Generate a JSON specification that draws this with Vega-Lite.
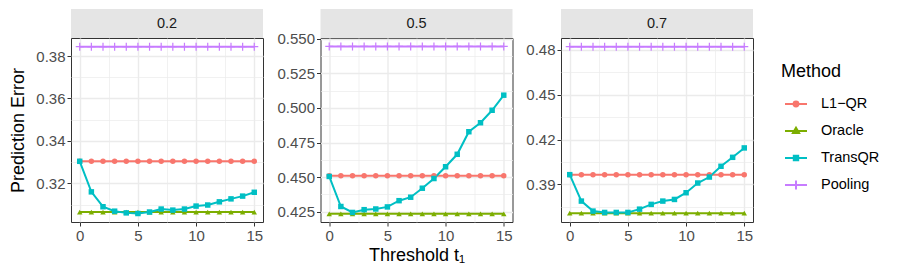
{
"$schema": "https://vega.github.io/schema/vega-lite/v6.json",
"padding": {"left": 9, "top": 9, "right": 0, "bottom": 0},
"background": "white",
"config": {
  "font": "Liberation Sans",
  "view": {"stroke": "#333333", "strokeWidth": 1},
  "axis": {"labelFontSize": 15, "labelColor": "#4D4D4D", "labelFont": "Liberation Sans", "tickColor": "#333333", "tickSize": 4, "tickWidth": 1, "domain": false, "gridColor": "#EBEBEB", "titleFontSize": 18, "titleFontWeight": "normal", "titleColor": "#000000", "titleFont": "Liberation Sans", "labelPadding": 2, "labelOverlap": false, "labelFlush": false},
  "axisX": {"titlePadding": 3},
  "axisY": {"titlePadding": 8}
},
"datasets": {"d": [
{"panel":"0.2","method":"L1-QR","t":0,"error":0.3304},{"panel":"0.2","method":"L1-QR","t":1,"error":0.3304},{"panel":"0.2","method":"L1-QR","t":2,"error":0.3304},{"panel":"0.2","method":"L1-QR","t":3,"error":0.3304},{"panel":"0.2","method":"L1-QR","t":4,"error":0.3304},{"panel":"0.2","method":"L1-QR","t":5,"error":0.3304},{"panel":"0.2","method":"L1-QR","t":6,"error":0.3304},{"panel":"0.2","method":"L1-QR","t":7,"error":0.3304},{"panel":"0.2","method":"L1-QR","t":8,"error":0.3304},{"panel":"0.2","method":"L1-QR","t":9,"error":0.3304},{"panel":"0.2","method":"L1-QR","t":10,"error":0.3304},{"panel":"0.2","method":"L1-QR","t":11,"error":0.3304},{"panel":"0.2","method":"L1-QR","t":12,"error":0.3304},{"panel":"0.2","method":"L1-QR","t":13,"error":0.3304},{"panel":"0.2","method":"L1-QR","t":14,"error":0.3304},{"panel":"0.2","method":"L1-QR","t":15,"error":0.3304},
{"panel":"0.2","method":"Oracle","t":0,"error":0.3065},{"panel":"0.2","method":"Oracle","t":1,"error":0.3065},{"panel":"0.2","method":"Oracle","t":2,"error":0.3065},{"panel":"0.2","method":"Oracle","t":3,"error":0.3065},{"panel":"0.2","method":"Oracle","t":4,"error":0.3065},{"panel":"0.2","method":"Oracle","t":5,"error":0.3065},{"panel":"0.2","method":"Oracle","t":6,"error":0.3065},{"panel":"0.2","method":"Oracle","t":7,"error":0.3065},{"panel":"0.2","method":"Oracle","t":8,"error":0.3065},{"panel":"0.2","method":"Oracle","t":9,"error":0.3065},{"panel":"0.2","method":"Oracle","t":10,"error":0.3065},{"panel":"0.2","method":"Oracle","t":11,"error":0.3065},{"panel":"0.2","method":"Oracle","t":12,"error":0.3065},{"panel":"0.2","method":"Oracle","t":13,"error":0.3065},{"panel":"0.2","method":"Oracle","t":14,"error":0.3065},{"panel":"0.2","method":"Oracle","t":15,"error":0.3065},
{"panel":"0.2","method":"TransQR","t":0,"error":0.3304},{"panel":"0.2","method":"TransQR","t":1,"error":0.3160},{"panel":"0.2","method":"TransQR","t":2,"error":0.3090},{"panel":"0.2","method":"TransQR","t":3,"error":0.3069},{"panel":"0.2","method":"TransQR","t":4,"error":0.3061},{"panel":"0.2","method":"TransQR","t":5,"error":0.3058},{"panel":"0.2","method":"TransQR","t":6,"error":0.3065},{"panel":"0.2","method":"TransQR","t":7,"error":0.3079},{"panel":"0.2","method":"TransQR","t":8,"error":0.3074},{"panel":"0.2","method":"TransQR","t":9,"error":0.3079},{"panel":"0.2","method":"TransQR","t":10,"error":0.3093},{"panel":"0.2","method":"TransQR","t":11,"error":0.3098},{"panel":"0.2","method":"TransQR","t":12,"error":0.3113},{"panel":"0.2","method":"TransQR","t":13,"error":0.3127},{"panel":"0.2","method":"TransQR","t":14,"error":0.3140},{"panel":"0.2","method":"TransQR","t":15,"error":0.3158},
{"panel":"0.2","method":"Pooling","t":0,"error":0.3844},{"panel":"0.2","method":"Pooling","t":1,"error":0.3844},{"panel":"0.2","method":"Pooling","t":2,"error":0.3844},{"panel":"0.2","method":"Pooling","t":3,"error":0.3844},{"panel":"0.2","method":"Pooling","t":4,"error":0.3844},{"panel":"0.2","method":"Pooling","t":5,"error":0.3844},{"panel":"0.2","method":"Pooling","t":6,"error":0.3844},{"panel":"0.2","method":"Pooling","t":7,"error":0.3844},{"panel":"0.2","method":"Pooling","t":8,"error":0.3844},{"panel":"0.2","method":"Pooling","t":9,"error":0.3844},{"panel":"0.2","method":"Pooling","t":10,"error":0.3844},{"panel":"0.2","method":"Pooling","t":11,"error":0.3844},{"panel":"0.2","method":"Pooling","t":12,"error":0.3844},{"panel":"0.2","method":"Pooling","t":13,"error":0.3844},{"panel":"0.2","method":"Pooling","t":14,"error":0.3844},{"panel":"0.2","method":"Pooling","t":15,"error":0.3844},
{"panel":"0.5","method":"L1-QR","t":0,"error":0.4510},{"panel":"0.5","method":"L1-QR","t":1,"error":0.4510},{"panel":"0.5","method":"L1-QR","t":2,"error":0.4510},{"panel":"0.5","method":"L1-QR","t":3,"error":0.4510},{"panel":"0.5","method":"L1-QR","t":4,"error":0.4510},{"panel":"0.5","method":"L1-QR","t":5,"error":0.4510},{"panel":"0.5","method":"L1-QR","t":6,"error":0.4510},{"panel":"0.5","method":"L1-QR","t":7,"error":0.4510},{"panel":"0.5","method":"L1-QR","t":8,"error":0.4510},{"panel":"0.5","method":"L1-QR","t":9,"error":0.4510},{"panel":"0.5","method":"L1-QR","t":10,"error":0.4510},{"panel":"0.5","method":"L1-QR","t":11,"error":0.4510},{"panel":"0.5","method":"L1-QR","t":12,"error":0.4510},{"panel":"0.5","method":"L1-QR","t":13,"error":0.4510},{"panel":"0.5","method":"L1-QR","t":14,"error":0.4510},{"panel":"0.5","method":"L1-QR","t":15,"error":0.4510},
{"panel":"0.5","method":"Oracle","t":0,"error":0.4235},{"panel":"0.5","method":"Oracle","t":1,"error":0.4235},{"panel":"0.5","method":"Oracle","t":2,"error":0.4235},{"panel":"0.5","method":"Oracle","t":3,"error":0.4235},{"panel":"0.5","method":"Oracle","t":4,"error":0.4235},{"panel":"0.5","method":"Oracle","t":5,"error":0.4235},{"panel":"0.5","method":"Oracle","t":6,"error":0.4235},{"panel":"0.5","method":"Oracle","t":7,"error":0.4235},{"panel":"0.5","method":"Oracle","t":8,"error":0.4235},{"panel":"0.5","method":"Oracle","t":9,"error":0.4235},{"panel":"0.5","method":"Oracle","t":10,"error":0.4235},{"panel":"0.5","method":"Oracle","t":11,"error":0.4235},{"panel":"0.5","method":"Oracle","t":12,"error":0.4235},{"panel":"0.5","method":"Oracle","t":13,"error":0.4235},{"panel":"0.5","method":"Oracle","t":14,"error":0.4235},{"panel":"0.5","method":"Oracle","t":15,"error":0.4235},
{"panel":"0.5","method":"TransQR","t":0,"error":0.4505},{"panel":"0.5","method":"TransQR","t":1,"error":0.4288},{"panel":"0.5","method":"TransQR","t":2,"error":0.4245},{"panel":"0.5","method":"TransQR","t":3,"error":0.4265},{"panel":"0.5","method":"TransQR","t":4,"error":0.4270},{"panel":"0.5","method":"TransQR","t":5,"error":0.4285},{"panel":"0.5","method":"TransQR","t":6,"error":0.4330},{"panel":"0.5","method":"TransQR","t":7,"error":0.4355},{"panel":"0.5","method":"TransQR","t":8,"error":0.4420},{"panel":"0.5","method":"TransQR","t":9,"error":0.4490},{"panel":"0.5","method":"TransQR","t":10,"error":0.4575},{"panel":"0.5","method":"TransQR","t":11,"error":0.4665},{"panel":"0.5","method":"TransQR","t":12,"error":0.4828},{"panel":"0.5","method":"TransQR","t":13,"error":0.4893},{"panel":"0.5","method":"TransQR","t":14,"error":0.4983},{"panel":"0.5","method":"TransQR","t":15,"error":0.5092},
{"panel":"0.5","method":"Pooling","t":0,"error":0.5444},{"panel":"0.5","method":"Pooling","t":1,"error":0.5444},{"panel":"0.5","method":"Pooling","t":2,"error":0.5444},{"panel":"0.5","method":"Pooling","t":3,"error":0.5444},{"panel":"0.5","method":"Pooling","t":4,"error":0.5444},{"panel":"0.5","method":"Pooling","t":5,"error":0.5444},{"panel":"0.5","method":"Pooling","t":6,"error":0.5444},{"panel":"0.5","method":"Pooling","t":7,"error":0.5444},{"panel":"0.5","method":"Pooling","t":8,"error":0.5444},{"panel":"0.5","method":"Pooling","t":9,"error":0.5444},{"panel":"0.5","method":"Pooling","t":10,"error":0.5444},{"panel":"0.5","method":"Pooling","t":11,"error":0.5444},{"panel":"0.5","method":"Pooling","t":12,"error":0.5444},{"panel":"0.5","method":"Pooling","t":13,"error":0.5444},{"panel":"0.5","method":"Pooling","t":14,"error":0.5444},{"panel":"0.5","method":"Pooling","t":15,"error":0.5444},
{"panel":"0.7","method":"L1-QR","t":0,"error":0.3965},{"panel":"0.7","method":"L1-QR","t":1,"error":0.3965},{"panel":"0.7","method":"L1-QR","t":2,"error":0.3965},{"panel":"0.7","method":"L1-QR","t":3,"error":0.3965},{"panel":"0.7","method":"L1-QR","t":4,"error":0.3965},{"panel":"0.7","method":"L1-QR","t":5,"error":0.3965},{"panel":"0.7","method":"L1-QR","t":6,"error":0.3965},{"panel":"0.7","method":"L1-QR","t":7,"error":0.3965},{"panel":"0.7","method":"L1-QR","t":8,"error":0.3965},{"panel":"0.7","method":"L1-QR","t":9,"error":0.3965},{"panel":"0.7","method":"L1-QR","t":10,"error":0.3965},{"panel":"0.7","method":"L1-QR","t":11,"error":0.3965},{"panel":"0.7","method":"L1-QR","t":12,"error":0.3965},{"panel":"0.7","method":"L1-QR","t":13,"error":0.3965},{"panel":"0.7","method":"L1-QR","t":14,"error":0.3965},{"panel":"0.7","method":"L1-QR","t":15,"error":0.3965},
{"panel":"0.7","method":"Oracle","t":0,"error":0.3707},{"panel":"0.7","method":"Oracle","t":1,"error":0.3707},{"panel":"0.7","method":"Oracle","t":2,"error":0.3707},{"panel":"0.7","method":"Oracle","t":3,"error":0.3707},{"panel":"0.7","method":"Oracle","t":4,"error":0.3707},{"panel":"0.7","method":"Oracle","t":5,"error":0.3707},{"panel":"0.7","method":"Oracle","t":6,"error":0.3707},{"panel":"0.7","method":"Oracle","t":7,"error":0.3707},{"panel":"0.7","method":"Oracle","t":8,"error":0.3707},{"panel":"0.7","method":"Oracle","t":9,"error":0.3707},{"panel":"0.7","method":"Oracle","t":10,"error":0.3707},{"panel":"0.7","method":"Oracle","t":11,"error":0.3707},{"panel":"0.7","method":"Oracle","t":12,"error":0.3707},{"panel":"0.7","method":"Oracle","t":13,"error":0.3707},{"panel":"0.7","method":"Oracle","t":14,"error":0.3707},{"panel":"0.7","method":"Oracle","t":15,"error":0.3707},
{"panel":"0.7","method":"TransQR","t":0,"error":0.3965},{"panel":"0.7","method":"TransQR","t":1,"error":0.3788},{"panel":"0.7","method":"TransQR","t":2,"error":0.3721},{"panel":"0.7","method":"TransQR","t":3,"error":0.3712},{"panel":"0.7","method":"TransQR","t":4,"error":0.3712},{"panel":"0.7","method":"TransQR","t":5,"error":0.3712},{"panel":"0.7","method":"TransQR","t":6,"error":0.3734},{"panel":"0.7","method":"TransQR","t":7,"error":0.3766},{"panel":"0.7","method":"TransQR","t":8,"error":0.3788},{"panel":"0.7","method":"TransQR","t":9,"error":0.3799},{"panel":"0.7","method":"TransQR","t":10,"error":0.3844},{"panel":"0.7","method":"TransQR","t":11,"error":0.3909},{"panel":"0.7","method":"TransQR","t":12,"error":0.3949},{"panel":"0.7","method":"TransQR","t":13,"error":0.4021},{"panel":"0.7","method":"TransQR","t":14,"error":0.4081},{"panel":"0.7","method":"TransQR","t":15,"error":0.4144},
{"panel":"0.7","method":"Pooling","t":0,"error":0.4822},{"panel":"0.7","method":"Pooling","t":1,"error":0.4822},{"panel":"0.7","method":"Pooling","t":2,"error":0.4822},{"panel":"0.7","method":"Pooling","t":3,"error":0.4822},{"panel":"0.7","method":"Pooling","t":4,"error":0.4822},{"panel":"0.7","method":"Pooling","t":5,"error":0.4822},{"panel":"0.7","method":"Pooling","t":6,"error":0.4822},{"panel":"0.7","method":"Pooling","t":7,"error":0.4822},{"panel":"0.7","method":"Pooling","t":8,"error":0.4822},{"panel":"0.7","method":"Pooling","t":9,"error":0.4822},{"panel":"0.7","method":"Pooling","t":10,"error":0.4822},{"panel":"0.7","method":"Pooling","t":11,"error":0.4822},{"panel":"0.7","method":"Pooling","t":12,"error":0.4822},{"panel":"0.7","method":"Pooling","t":13,"error":0.4822},{"panel":"0.7","method":"Pooling","t":14,"error":0.4822},{"panel":"0.7","method":"Pooling","t":15,"error":0.4822}
]},
"spacing": 11.5,
"hconcat": [
 {"vconcat": [
   {"data": {"values": [{"label": "0.2"}]}, "width": 192, "height": 29, "view": {"fill": "#E5E5E5", "stroke": null}, "mark": {"type": "text", "fontSize": 14.5, "color": "#1A1A1A"}, "encoding": {"text": {"field": "label"}}},
   {"data": {"name": "d"}, "transform": [{"filter": "datum.panel == '0.2'"}], "width": 192, "height": 184,
    "encoding": {
      "x": {"field": "t", "type": "quantitative", "scale": {"domain": [-0.75, 15.75], "nice": false, "zero": false},
            "axis": {"title": null, "values": [0, 2.5, 5, 7.5, 10, 12.5, 15], "labelExpr": "datum.value % 5 != 0 ? '' : datum.label", "tickOpacity": {"condition": {"test": "datum.value % 5 != 0", "value": 0}, "value": 1}, "gridWidth": {"condition": {"test": "datum.value % 5 != 0", "value": 0.7}, "value": 1.4}}},
      "y": {"field": "error", "type": "quantitative", "scale": {"domain": [0.3018, 0.3885], "nice": false, "zero": false},
            "axis": {"title": "Prediction Error", "format": ".2f", "values": [0.31, 0.32, 0.33, 0.34, 0.35, 0.36, 0.37, 0.38], "labelExpr": "indexof([0.31, 0.33, 0.35, 0.37], datum.value) >= 0 ? '' : datum.label", "tickOpacity": {"condition": {"test": "indexof([0.31, 0.33, 0.35, 0.37], datum.value) >= 0", "value": 0}, "value": 1}, "gridWidth": {"condition": {"test": "indexof([0.31, 0.33, 0.35, 0.37], datum.value) >= 0", "value": 0.7}, "value": 1.4}}},
      "color": {"field": "method", "type": "nominal", "scale": {"domain": ["L1-QR", "Oracle", "TransQR", "Pooling"], "range": ["#F8766D", "#7CAE00", "#00BFC4", "#C77CFF"]},
        "legend": {"title": "Method", "orient": "none", "legendX": 710, "legendY": 54, "titleFontSize": 18, "titleFontWeight": "normal", "titleColor": "#000000", "titlePadding": 11, "labelFontSize": 14.5, "labelColor": "#000000", "labelOffset": 13, "symbolSize": 484, "rowPadding": 8, "symbolOffset": 3, "labelExpr": "replace(datum.label, '-', '−')",
          "encode": {"symbols": {"update": {"shape": {"signal": "datum.value == 'L1-QR' ? 'M-1,0H1M0.22,0A0.22,0.22 0 1,1 -0.22,0A0.22,0.22 0 1,1 0.22,0Z' : datum.value == 'Oracle' ? 'M-1,0H1M0,-0.3L0.28,0.18L-0.28,0.18Z' : datum.value == 'TransQR' ? 'M-1,0H1M-0.2,-0.2H0.2V0.2H-0.2Z' : 'M-1,0H1M0,-0.4V0.4'"}, "fill": {"scale": "color", "field": "value"}, "stroke": {"scale": "color", "field": "value"}, "strokeWidth": {"value": 2}, "size": {"value": 484}, "opacity": {"value": 1}}}}}}
    },
    "layer": [
      {"mark": {"type": "line", "strokeWidth": 2}},
      {"transform": [{"filter": "datum.method != 'Pooling'"}], "mark": {"type": "point", "filled": true, "opacity": 1, "size": 30}, "encoding": {"shape": {"field": "method", "type": "nominal", "scale": {"domain": ["L1-QR", "Oracle", "TransQR"], "range": ["circle", "triangle-up", "square"]}, "legend": null}}},
      {"transform": [{"filter": "datum.method == 'Pooling'"}], "mark": {"type": "point", "shape": "M-1,0H1M0,-1V1", "filled": false, "size": 64, "strokeWidth": 1.2, "opacity": 1}}
    ]}
 ], "spacing": 0, "bounds": "flush"},
 {"vconcat": [
   {"data": {"values": [{"label": "0.5"}]}, "width": 192, "height": 29, "view": {"fill": "#E5E5E5", "stroke": null}, "mark": {"type": "text", "fontSize": 14.5, "color": "#1A1A1A"}, "encoding": {"text": {"field": "label"}}},
   {"data": {"name": "d"}, "transform": [{"filter": "datum.panel == '0.5'"}], "width": 192, "height": 184,
    "encoding": {
      "x": {"field": "t", "type": "quantitative", "scale": {"domain": [-0.75, 15.75], "nice": false, "zero": false},
            "axis": {"title": "Threshold t₁", "values": [0, 2.5, 5, 7.5, 10, 12.5, 15], "labelExpr": "datum.value % 5 != 0 ? '' : datum.label", "tickOpacity": {"condition": {"test": "datum.value % 5 != 0", "value": 0}, "value": 1}, "gridWidth": {"condition": {"test": "datum.value % 5 != 0", "value": 0.7}, "value": 1.4}}},
      "y": {"field": "error", "type": "quantitative", "scale": {"domain": [0.4176, 0.5505], "nice": false, "zero": false},
            "axis": {"title": null, "format": ".3f", "values": [0.425, 0.4375, 0.45, 0.4625, 0.475, 0.4875, 0.5, 0.5125, 0.525, 0.5375, 0.55], "labelExpr": "indexof([0.4375, 0.4625, 0.4875, 0.5125, 0.5375], datum.value) >= 0 ? '' : datum.label", "tickOpacity": {"condition": {"test": "indexof([0.4375, 0.4625, 0.4875, 0.5125, 0.5375], datum.value) >= 0", "value": 0}, "value": 1}, "gridWidth": {"condition": {"test": "indexof([0.4375, 0.4625, 0.4875, 0.5125, 0.5375], datum.value) >= 0", "value": 0.7}, "value": 1.4}}},
      "color": {"field": "method", "type": "nominal", "scale": {"domain": ["L1-QR", "Oracle", "TransQR", "Pooling"], "range": ["#F8766D", "#7CAE00", "#00BFC4", "#C77CFF"]},
        "legend": {"title": "Method", "orient": "none", "legendX": 710, "legendY": 54, "titleFontSize": 18, "titleFontWeight": "normal", "titleColor": "#000000", "titlePadding": 11, "labelFontSize": 14.5, "labelColor": "#000000", "labelOffset": 13, "symbolSize": 484, "rowPadding": 8, "symbolOffset": 3, "labelExpr": "replace(datum.label, '-', '−')",
          "encode": {"symbols": {"update": {"shape": {"signal": "datum.value == 'L1-QR' ? 'M-1,0H1M0.22,0A0.22,0.22 0 1,1 -0.22,0A0.22,0.22 0 1,1 0.22,0Z' : datum.value == 'Oracle' ? 'M-1,0H1M0,-0.3L0.28,0.18L-0.28,0.18Z' : datum.value == 'TransQR' ? 'M-1,0H1M-0.2,-0.2H0.2V0.2H-0.2Z' : 'M-1,0H1M0,-0.4V0.4'"}, "fill": {"scale": "color", "field": "value"}, "stroke": {"scale": "color", "field": "value"}, "strokeWidth": {"value": 2}, "size": {"value": 484}, "opacity": {"value": 1}}}}}}
    },
    "layer": [
      {"mark": {"type": "line", "strokeWidth": 2}},
      {"transform": [{"filter": "datum.method != 'Pooling'"}], "mark": {"type": "point", "filled": true, "opacity": 1, "size": 30}, "encoding": {"shape": {"field": "method", "type": "nominal", "scale": {"domain": ["L1-QR", "Oracle", "TransQR"], "range": ["circle", "triangle-up", "square"]}, "legend": null}}},
      {"transform": [{"filter": "datum.method == 'Pooling'"}], "mark": {"type": "point", "shape": "M-1,0H1M0,-1V1", "filled": false, "size": 64, "strokeWidth": 1.2, "opacity": 1}}
    ]}
 ], "spacing": 0, "bounds": "flush"},
 {"vconcat": [
   {"data": {"values": [{"label": "0.7"}]}, "width": 192, "height": 29, "view": {"fill": "#E5E5E5", "stroke": null}, "mark": {"type": "text", "fontSize": 14.5, "color": "#1A1A1A"}, "encoding": {"text": {"field": "label"}}},
   {"data": {"name": "d"}, "transform": [{"filter": "datum.panel == '0.7'"}], "width": 192, "height": 184,
    "encoding": {
      "x": {"field": "t", "type": "quantitative", "scale": {"domain": [-0.75, 15.75], "nice": false, "zero": false},
            "axis": {"title": null, "values": [0, 2.5, 5, 7.5, 10, 12.5, 15], "labelExpr": "datum.value % 5 != 0 ? '' : datum.label", "tickOpacity": {"condition": {"test": "datum.value % 5 != 0", "value": 0}, "value": 1}, "gridWidth": {"condition": {"test": "datum.value % 5 != 0", "value": 0.7}, "value": 1.4}}},
      "y": {"field": "error", "type": "quantitative", "scale": {"domain": [0.3648, 0.488], "nice": false, "zero": false},
            "axis": {"title": null, "format": ".2f", "values": [0.375, 0.39, 0.405, 0.42, 0.435, 0.45, 0.465, 0.48], "labelExpr": "indexof([0.375, 0.405, 0.435, 0.465], datum.value) >= 0 ? '' : datum.label", "tickOpacity": {"condition": {"test": "indexof([0.375, 0.405, 0.435, 0.465], datum.value) >= 0", "value": 0}, "value": 1}, "gridWidth": {"condition": {"test": "indexof([0.375, 0.405, 0.435, 0.465], datum.value) >= 0", "value": 0.7}, "value": 1.4}}},
      "color": {"field": "method", "type": "nominal", "scale": {"domain": ["L1-QR", "Oracle", "TransQR", "Pooling"], "range": ["#F8766D", "#7CAE00", "#00BFC4", "#C77CFF"]},
        "legend": {"title": "Method", "orient": "none", "legendX": 710, "legendY": 54, "titleFontSize": 18, "titleFontWeight": "normal", "titleColor": "#000000", "titlePadding": 11, "labelFontSize": 14.5, "labelColor": "#000000", "labelOffset": 13, "symbolSize": 484, "rowPadding": 8, "symbolOffset": 3, "labelExpr": "replace(datum.label, '-', '−')",
          "encode": {"symbols": {"update": {"shape": {"signal": "datum.value == 'L1-QR' ? 'M-1,0H1M0.22,0A0.22,0.22 0 1,1 -0.22,0A0.22,0.22 0 1,1 0.22,0Z' : datum.value == 'Oracle' ? 'M-1,0H1M0,-0.3L0.28,0.18L-0.28,0.18Z' : datum.value == 'TransQR' ? 'M-1,0H1M-0.2,-0.2H0.2V0.2H-0.2Z' : 'M-1,0H1M0,-0.4V0.4'"}, "fill": {"scale": "color", "field": "value"}, "stroke": {"scale": "color", "field": "value"}, "strokeWidth": {"value": 2}, "size": {"value": 484}, "opacity": {"value": 1}}}}}}
    },
    "layer": [
      {"mark": {"type": "line", "strokeWidth": 2}},
      {"transform": [{"filter": "datum.method != 'Pooling'"}], "mark": {"type": "point", "filled": true, "opacity": 1, "size": 30}, "encoding": {"shape": {"field": "method", "type": "nominal", "scale": {"domain": ["L1-QR", "Oracle", "TransQR"], "range": ["circle", "triangle-up", "square"]}, "legend": null}}},
      {"transform": [{"filter": "datum.method == 'Pooling'"}], "mark": {"type": "point", "shape": "M-1,0H1M0,-1V1", "filled": false, "size": 64, "strokeWidth": 1.2, "opacity": 1}}
    ]}
 ], "spacing": 0, "bounds": "flush"}
]
}
